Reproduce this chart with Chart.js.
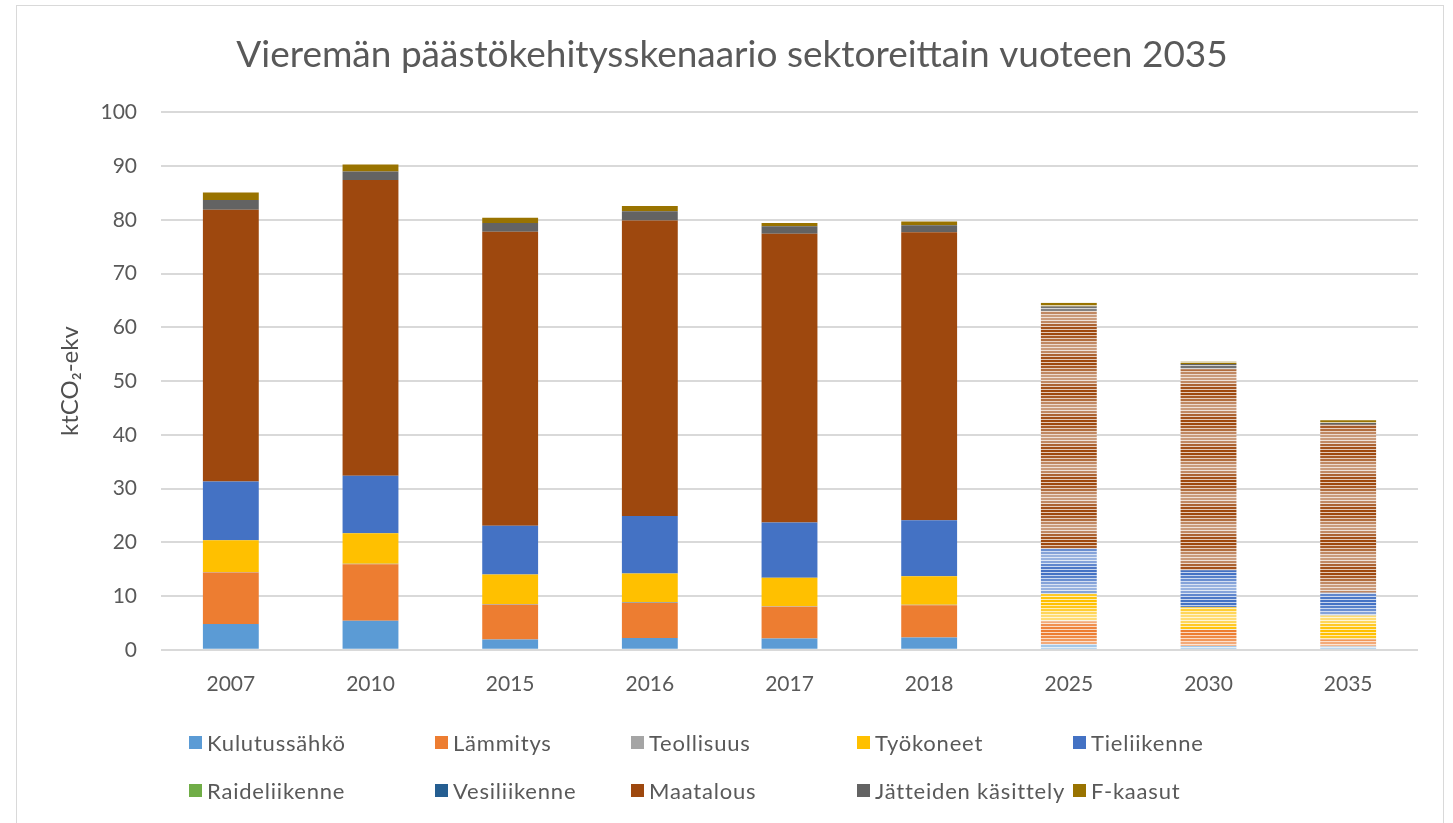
<!DOCTYPE html>
<html>
<head>
<meta charset="utf-8">
<script src="https://cdn.jsdelivr.net/npm/chart.js@4/dist/chart.umd.min.js"></script>
<style>
  html, body { margin: 0; padding: 0; background: #fff; }
  #wrap { position: relative; width: 1453px; height: 823px; overflow: hidden; }
  #frame { position: absolute; left: 16px; top: 5px; width: 1426px; height: 840px; border: 1px solid #d9d9d9; }
  #chart { position: absolute; left: 0; top: 0; }
  #legend {
    position: absolute; left: 189px; top: 718px;
    display: grid; grid-template-columns: 246px 196px 226px 216px auto;
    grid-auto-rows: 48px;
    font-family: Lato, "Open Sans", sans-serif; font-size: 22px; letter-spacing: 0.8px; color: #595959;
  }
  #legend .item { display: flex; align-items: center; white-space: nowrap; }
  #legend .box { width: 13px; height: 13px; margin-right: 5px; flex: none; }
</style>
</head>
<body>
<div id="wrap">
  <div id="frame"></div>
  <canvas id="chart" width="1453" height="823"></canvas>
  <div id="legend"></div>
</div>
<script>
// vuodet; 2025 alkaen skenaario
const years = ['2007', '2010', '2015', '2016', '2017', '2018', '2025', '2030', '2035'];
const firstScenario = 6;

// ktCO2-ekv per sektori
const kulutussahko  = [4.8, 5.4, 1.9, 2.2, 2.1, 2.3, 1.1, 0.7, 0.6];
const lammitys      = [9.6, 10.5, 6.5, 6.5, 5.9, 6.0, 4.2, 3.0, 1.3];
const teollisuus    = [0.1, 0.1, 0.1, 0.2, 0.1, 0.1, 0.1, 0.1, 0.1];
const tyokoneet     = [5.9, 5.7, 5.5, 5.3, 5.3, 5.3, 5.0, 4.1, 4.4];
const tieliikenne   = [10.9, 10.7, 9.1, 10.7, 10.3, 10.4, 8.4, 6.9, 4.2];
const raideliikenne = [0, 0, 0, 0, 0, 0, 0, 0, 0];
const vesiliikenne  = [0, 0, 0, 0, 0, 0, 0, 0, 0];
const maatalous     = [50.6, 55.0, 54.7, 55.0, 53.7, 53.6, 44.2, 37.4, 31.3];
const jatteet       = [1.8, 1.6, 1.6, 1.7, 1.4, 1.3, 0.9, 1.0, 0.3];
const fkaasut       = [1.4, 1.3, 1.0, 1.0, 0.6, 0.7, 0.7, 0.4, 0.5];

const yTicks = [0, 10, 20, 30, 40, 50, 60, 70, 80, 90, 100];

const sectors = [
  { label: 'Kulutussähkö', data: kulutussahko, color: '#5b9bd5' },
  { label: 'Lämmitys', data: lammitys, color: '#ed7d31' },
  { label: 'Teollisuus', data: teollisuus, color: '#a5a5a5' },
  { label: 'Työkoneet', data: tyokoneet, color: '#ffc000' },
  { label: 'Tieliikenne', data: tieliikenne, color: '#4472c4' },
  { label: 'Raideliikenne', data: raideliikenne, color: '#70ad47' },
  { label: 'Vesiliikenne', data: vesiliikenne, color: '#255e91' },
  { label: 'Maatalous', data: maatalous, color: '#9e480e' },
  { label: 'Jätteiden käsittely', data: jatteet, color: '#636363' },
  { label: 'F-kaasut', data: fkaasut, color: '#997300' },
];

// horizontal stripe fill for the scenario years
const stripeAlpha = [1, 1, 0.9, 0.8, 0.65, 0.55, 0.55, 0.65, 0.85, 0.95];
function stripes(color) {
  const c = document.createElement('canvas');
  c.width = 8;
  c.height = stripeAlpha.length * 3;
  const g = c.getContext('2d');
  g.fillStyle = '#fff';
  g.fillRect(0, 0, c.width, c.height);
  g.fillStyle = color;
  stripeAlpha.forEach((a, i) => {
    g.globalAlpha = a;
    g.fillRect(0, i * 3, c.width, 2);
    g.globalAlpha = a * 0.3;
    g.fillRect(0, i * 3 + 2, c.width, 1);
  });
  return g.createPattern(c, 'repeat');
}

const datasets = sectors.map((s) => {
  const pattern = stripes(s.color);
  return {
    label: s.label,
    data: s.data,
    backgroundColor: (ctx) => (ctx.dataIndex >= firstScenario ? pattern : s.color),
    borderWidth: 0,
    barPercentage: 0.4,
    categoryPercentage: 1,
  };
});

const font = 'Lato, "Open Sans", sans-serif';

new Chart(document.getElementById('chart'), {
  type: 'bar',
  data: { labels: years, datasets: datasets },
  options: {
    responsive: false,
    animation: false,
    layout: { padding: { left: 46, right: 35, top: 0, bottom: 112 } },
    plugins: {
      legend: { display: false },
      tooltip: { enabled: false },
      title: {
        display: true,
        text: 'Vieremän päästökehitysskenaario sektoreittain vuoteen 2035',
        color: '#595959',
        font: { family: font, size: 37, weight: 'normal' },
        padding: { top: 33, bottom: 35 },
      },
    },
    scales: {
      x: {
        stacked: true,
        grid: { display: false },
        border: { display: false },
        ticks: { color: '#595959', font: { family: font, size: 21 }, padding: 14 },
      },
      y: {
        stacked: true,
        min: 0,
        max: 100,
        afterFit: (scale) => { scale.width = 115; },
        afterBuildTicks: (scale) => { scale.ticks = yTicks.map((v) => ({ value: v })); },
        grid: { color: '#d9d9d9', lineWidth: 2, drawTicks: false },
        border: { display: false },
        ticks: { color: '#595959', font: { family: font, size: 21 }, padding: 24 },
        title: {
          display: true,
          text: 'ktCO₂-ekv',
          color: '#505050',
          font: { family: font, size: 24 },
          padding: { top: 10 },
        },
      },
    },
  },
});

const legend = document.getElementById('legend');
sectors.forEach((s) => {
  const item = document.createElement('div');
  item.className = 'item';
  const box = document.createElement('span');
  box.className = 'box';
  box.style.background = s.color;
  const text = document.createElement('span');
  text.textContent = s.label;
  item.appendChild(box);
  item.appendChild(text);
  legend.appendChild(item);
});
</script>
</body>
</html>
